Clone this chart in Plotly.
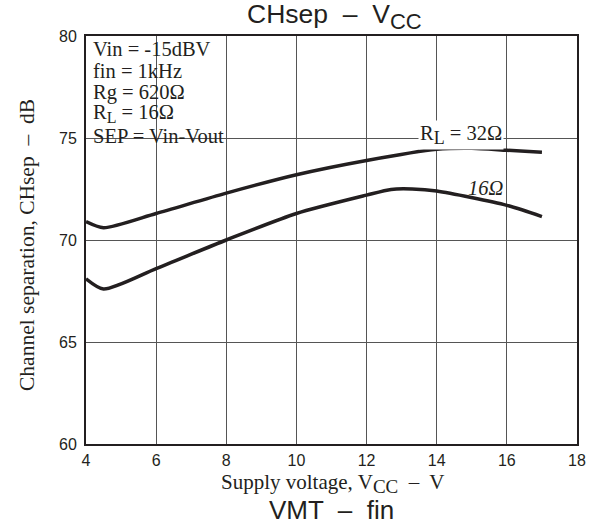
import plotly.graph_objects as go

# ---- data ----
vcc_32 = [4.0, 4.5, 6.0, 8.0, 10.0, 12.0, 14.0, 15.0, 16.0, 17.0]
sep_32 = [70.9, 70.6, 71.3, 72.3, 73.2, 73.9, 74.45, 74.5, 74.4, 74.3]

vcc_16 = [4.0, 4.5, 6.0, 8.0, 10.0, 12.0, 12.7, 13.3, 14.0, 16.0, 17.0]
sep_16 = [68.1, 67.6, 68.6, 70.0, 71.3, 72.2, 72.48, 72.5, 72.4, 71.7, 71.15]

x_ticks = [4, 6, 8, 10, 12, 14, 16, 18]
y_ticks = [60, 65, 70, 75, 80]

SUB = '<sub><span style="font-size:{s}px">{t}</span></sub>'

cond_lines = ["Vin = -15dBV", "fin = 1kHz", "Rg = 620Ω",
              "R" + SUB.format(s=16, t="L") + " = 16Ω", "SEP = Vin-Vout"]

W, H = 597, 524
L, R, T, B = 86, 20, 36, 80
PW, PH = W - L - R, H - T - B


def px(x):
    return (x - L) / PW


def py(y):
    return (H - B - y) / PH


SERIF = "Liberation Serif, Times New Roman, serif"
SANS = "Liberation Sans, Arial, Helvetica, sans-serif"
INK = "#231f20"

fig = go.Figure()
fig.add_trace(go.Scatter(x=vcc_32, y=sep_32, mode="lines",
                         line=dict(color=INK, width=3.5, shape="spline", smoothing=0.7),
                         hoverinfo="skip", showlegend=False))
fig.add_trace(go.Scatter(x=vcc_16, y=sep_16, mode="lines",
                         line=dict(color=INK, width=3.5, shape="spline", smoothing=0.7),
                         hoverinfo="skip", showlegend=False))

# white box behind the conditions text
fig.add_shape(type="rect", xref="paper", yref="paper",
              x0=px(87.5), x1=px(234), y0=py(148), y1=py(40),
              fillcolor="white", line=dict(width=0), layer="between")

centers = [49, 70.7, 92.3, 113.5, 136]
for txt, cy in zip(cond_lines, centers):
    fig.add_annotation(text=txt, xref="paper", yref="paper", x=px(91), y=py(cy),
                       xanchor="left", yanchor="middle", showarrow=False,
                       font=dict(family=SERIF, size=20.5, color=INK))

fig.add_annotation(text="R" + SUB.format(s=18, t="L") + " = 32Ω", xref="paper", yref="paper",
                   x=px(461), y=py(135), xanchor="center", yanchor="middle",
                   showarrow=False, bgcolor="white", borderpad=1,
                   font=dict(family=SERIF, size=20.5, color=INK))
fig.add_annotation(text="<i>16Ω</i>", xref="paper", yref="paper",
                   x=px(486), y=py(188), xanchor="center", yanchor="middle",
                   showarrow=False, font=dict(family=SERIF, size=20.5, color=INK))

# title and axis titles
fig.add_annotation(text="CHsep  –  V" + SUB.format(s=22, t="CC"), xref="paper", yref="paper",
                   x=px(334), y=py(17), xanchor="center", yanchor="middle",
                   showarrow=False, font=dict(family=SANS, size=26.5, color=INK))
fig.add_annotation(text="Supply voltage, V" + SUB.format(s=19, t="CC") + "  –  V",
                   xref="paper", yref="paper",
                   x=px(333), y=py(483), xanchor="center", yanchor="middle",
                   showarrow=False, font=dict(family=SERIF, size=21, color=INK))
fig.add_annotation(text="Channel separation, CHsep  –  dB", xref="paper", yref="paper",
                   x=px(27), y=py(245), xanchor="center", yanchor="middle",
                   textangle=-90, showarrow=False,
                   font=dict(family=SERIF, size=21.5, color=INK))
fig.add_annotation(text="VMT  –  fin", xref="paper", yref="paper",
                   x=px(331), y=py(510), xanchor="center", yanchor="middle",
                   showarrow=False, font=dict(family=SANS, size=26, color=INK))
fig.add_annotation(text="75", xref="paper", yref="paper",
                   x=px(70), y=py(531), xanchor="center", yanchor="middle",
                   showarrow=False, font=dict(family=SANS, size=16, color=INK))

axis_common = dict(showgrid=True, gridcolor="#555555", gridwidth=1.2,
                   showline=True, linecolor=INK, linewidth=2, mirror=True,
                   zeroline=False, ticks="", tickfont=dict(family=SANS, size=16, color=INK),
                   fixedrange=True)

fig.update_xaxes(range=[4, 18], tickvals=x_ticks, ticktext=[str(v) for v in x_ticks],
                 ticklabelstandoff=1, **axis_common)
fig.update_yaxes(range=[60, 80], tickvals=y_ticks, ticktext=[str(v) for v in y_ticks],
                 ticklabelstandoff=4, **axis_common)

fig.update_layout(width=W, height=H, margin=dict(l=L, r=R, t=T, b=B),
                  paper_bgcolor="white", plot_bgcolor="white", showlegend=False)

fig.write_html("out.html", post_script="document.body.style.margin='0';",
               config={"displayModeBar": False})
